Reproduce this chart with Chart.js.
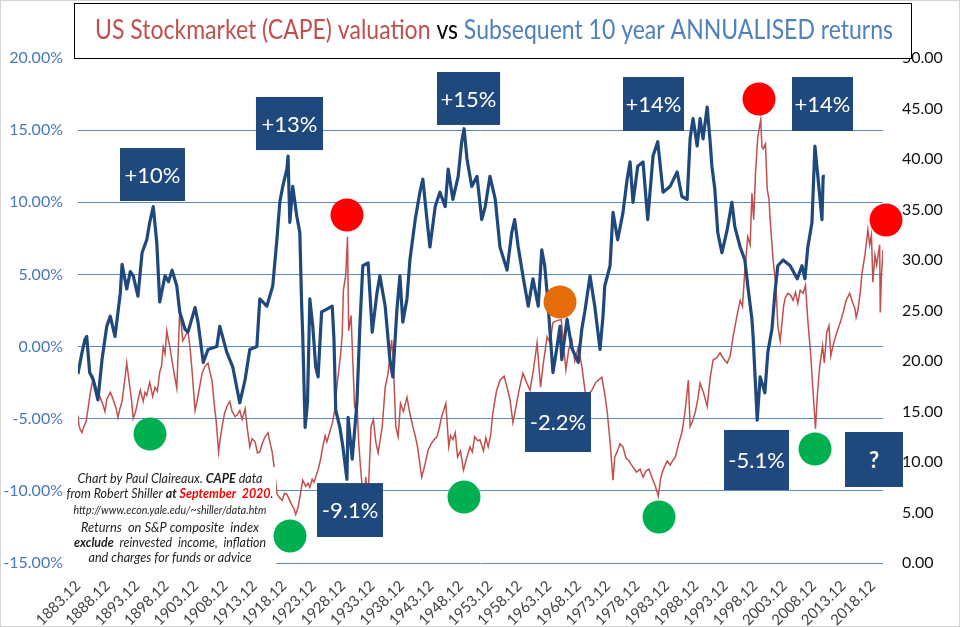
<!DOCTYPE html>
<html><head><meta charset="utf-8">
<script src="https://cdn.jsdelivr.net/npm/chart.js@4.4.1/dist/chart.umd.min.js"></script>
<style>html,body{margin:0;padding:0;background:#fff;}#wrap{width:960px;height:627px;position:relative;}canvas{display:block;}</style>
</head><body><div id="wrap"><canvas id="c" width="960" height="627"></canvas></div>
<script>
// ---- tick labels (x axis) ----
const tickLabels = ['1883.12','1888.12','1893.12','1898.12','1903.12','1908.12','1913.12','1918.12','1923.12','1928.12','1933.12','1938.12','1943.12','1948.12','1953.12','1958.12','1963.12','1968.12','1973.12','1978.12','1983.12','1988.12','1993.12','1998.12','2003.12','2008.12','2013.12','2018.12'];

// ---- CAPE (right axis) ----
const capeYears = [1883.9,1884.1,1884.3,1884.6,1884.9,1885.3,1885.7,1886.0,1886.5,1886.9,1887.3,1887.8,1888.2,1888.5,1888.8,1889.4,1889.7,1890.0,1890.4,1890.7,1891.0,1891.4,1891.8,1892.2,1892.7,1893.0,1893.3,1893.6,1893.9,1894.2,1894.5,1895.0,1895.3,1895.6,1896.1,1896.6,1897.0,1897.4,1897.8,1898.1,1898.4,1898.7,1899.0,1899.3,1899.5,1899.9,1900.3,1900.7,1901.2,1901.5,1901.7,1902.1,1902.6,1903.0,1903.3,1903.8,1904.2,1904.6,1905.0,1905.5,1906.0,1906.3,1906.7,1907.1,1907.4,1907.8,1908.1,1908.4,1908.8,1909.2,1909.7,1910.1,1910.6,1911.0,1911.4,1911.8,1912.3,1912.7,1913.1,1913.5,1914.0,1914.4,1914.8,1915.2,1915.7,1916.2,1916.5,1916.9,1917.3,1917.7,1918.1,1918.6,1919.0,1919.4,1919.8,1920.2,1920.6,1920.9,1921.3,1921.6,1922.1,1922.6,1923.0,1923.3,1923.7,1924.0,1924.4,1924.7,1925.1,1925.5,1925.9,1926.2,1926.7,1927.1,1927.5,1928.0,1928.5,1928.8,1929.0,1929.4,1929.7,1929.9,1930.3,1930.6,1930.9,1931.3,1931.6,1931.9,1932.2,1932.5,1932.8,1933.0,1933.3,1933.7,1934.1,1934.5,1934.9,1935.2,1935.6,1936.1,1936.6,1937.2,1937.5,1937.9,1938.3,1938.7,1939.2,1939.8,1940.3,1940.8,1941.2,1941.6,1942.3,1942.8,1943.4,1943.9,1944.4,1944.9,1945.3,1945.7,1946.4,1946.9,1947.2,1947.6,1948.0,1948.4,1948.9,1949.4,1949.9,1950.5,1950.9,1951.3,1951.8,1952.2,1952.8,1953.2,1953.6,1954.0,1954.4,1955.0,1955.6,1956.3,1956.8,1957.3,1957.8,1958.3,1958.8,1959.5,1960.1,1960.7,1961.3,1961.9,1962.5,1962.9,1963.6,1964.1,1964.6,1965.3,1966.0,1966.4,1966.8,1967.3,1967.8,1968.3,1968.9,1969.5,1970.4,1970.8,1971.2,1971.9,1972.9,1973.3,1973.8,1974.3,1974.8,1975.1,1975.5,1976.0,1976.5,1977.0,1977.4,1978.2,1978.8,1979.4,1979.9,1980.4,1980.9,1981.6,1982.0,1982.5,1982.9,1983.3,1984.0,1984.5,1985.0,1985.4,1986.0,1986.5,1987.0,1987.6,1987.9,1988.3,1988.8,1989.2,1989.6,1990.2,1990.8,1991.3,1991.8,1992.4,1993.0,1993.6,1994.2,1994.7,1995.2,1995.8,1996.4,1996.8,1997.2,1997.7,1998.1,1998.4,1998.7,1999.0,1999.4,1999.9,2000.1,2000.3,2000.7,2001.0,2001.3,2001.5,2002.0,2002.5,2002.8,2003.2,2003.8,2004.1,2004.5,2005.0,2005.4,2005.8,2006.2,2006.6,2007.1,2007.5,2007.9,2008.4,2008.8,2009.2,2009.5,2009.9,2010.4,2010.7,2011.1,2011.5,2011.8,2012.3,2012.8,2013.4,2013.9,2014.4,2015.0,2015.5,2015.9,2016.1,2016.4,2016.8,2017.1,2017.6,2018.1,2018.4,2018.7,2018.95,2019.3,2019.6,2019.9,2020.1,2020.2,2020.4,2020.67];
const capeValues = [14.6,13.6,13.2,12.9,13.5,14.0,15.6,16.8,18.4,17.6,17.0,16.2,15.6,15.0,16.2,16.9,16.5,16.0,15.3,14.4,15.2,16.0,17.8,19.8,17.5,16.2,14.3,14.8,15.5,16.4,17.1,16.0,16.9,16.6,17.9,16.5,17.4,17.0,18.9,19.5,21.4,20.7,23.0,22.0,21.5,20.0,18.6,17.3,25.0,23.4,22.0,22.4,23.0,21.0,19.0,15.1,16.2,17.5,18.8,19.5,19.8,19.0,18.0,15.5,14.0,11.0,12.4,13.5,14.8,15.5,16.0,15.0,14.5,14.7,15.1,14.2,15.3,13.2,11.5,12.3,12.0,10.9,11.0,11.8,12.5,12.9,12.0,11.0,9.2,6.9,6.5,6.2,6.9,6.8,6.3,5.8,5.4,4.8,5.5,6.5,8.2,7.6,7.9,7.5,8.3,8.0,8.7,9.2,10.2,11.5,12.6,12.0,13.0,13.8,15.0,18.0,20.5,22.6,27.0,28.5,32.3,23.0,24.5,20.0,15.5,16.0,12.0,9.5,7.5,6.0,8.5,7.2,8.0,13.5,14.2,12.0,10.9,12.0,13.5,17.4,18.8,22.1,19.5,13.5,12.5,15.8,15.0,16.4,14.8,13.5,12.6,11.5,8.5,9.6,11.2,11.8,12.2,12.5,13.4,14.5,15.8,11.5,12.6,12.2,12.9,10.5,11.1,9.2,10.3,11.5,11.0,12.5,12.1,12.2,11.1,12.4,11.5,12.6,14.9,17.0,18.1,18.5,17.4,16.2,13.9,15.4,17.0,18.8,17.9,17.1,19.2,21.8,17.4,19.5,22.4,21.8,23.8,24.0,24.1,21.6,19.1,21.2,22.1,20.0,21.4,19.5,15.5,16.8,17.1,17.9,18.4,17.1,15.1,12.0,8.2,10.5,11.0,11.8,11.5,10.4,10.2,9.5,9.0,9.3,8.5,9.1,9.3,8.2,7.6,6.6,8.4,9.2,10.1,9.7,10.2,10.5,11.9,12.9,14.8,18.1,13.5,14.0,15.0,16.2,17.8,16.8,15.5,18.3,20.1,20.3,20.8,20.2,19.8,20.5,22.4,24.3,26.0,25.4,29.0,32.3,31.5,36.6,34.0,38.5,42.2,43.9,41.2,41.0,41.5,37.0,36.0,34.0,30.0,27.3,23.5,22.0,25.5,26.3,26.7,26.5,26.0,26.8,25.7,27.0,26.7,27.5,24.0,20.5,16.8,13.3,16.5,19.4,21.5,19.8,22.8,23.5,20.5,21.8,22.8,23.8,24.8,26.0,26.7,25.8,25.2,24.3,25.0,26.8,28.7,30.5,33.0,31.5,32.5,27.8,30.5,29.5,30.8,31.5,24.8,28.5,31.0];

// ---- Subsequent 10 year annualised return, % (left axis) ----
const retYears = [1883.9,1884.6,1885.1,1885.4,1885.9,1886.5,1887.3,1888.0,1888.8,1889.4,1890.2,1891.1,1891.4,1892.2,1892.8,1893.3,1894.1,1894.8,1895.6,1896.1,1896.7,1897.3,1897.8,1898.7,1899.3,1899.9,1900.7,1901.2,1902.1,1902.6,1903.8,1904.3,1905.2,1906.0,1907.5,1908.0,1909.2,1910.2,1911.4,1912.3,1913.1,1914.3,1914.8,1916.0,1917.0,1917.7,1918.2,1918.7,1919.4,1919.6,1919.9,1920.4,1921.1,1921.6,1921.9,1922.1,1922.5,1922.9,1923.3,1923.8,1924.3,1924.7,1925.3,1926.2,1927.1,1927.4,1927.7,1928.4,1928.9,1929.6,1929.8,1930.5,1931.3,1931.8,1932.3,1933.2,1933.9,1934.7,1935.2,1936.1,1936.9,1937.4,1938.1,1938.6,1939.1,1939.8,1940.3,1941.2,1942.0,1942.5,1943.2,1943.7,1944.6,1945.4,1946.3,1946.8,1947.6,1948.5,1949.1,1949.5,1950.0,1950.8,1951.7,1952.5,1953.1,1953.9,1954.8,1955.6,1956.8,1957.6,1958.1,1958.7,1959.5,1960.4,1961.2,1962.1,1962.7,1963.2,1963.7,1964.6,1965.3,1965.8,1966.1,1967.0,1967.8,1968.9,1969.5,1970.0,1970.9,1971.7,1972.6,1973.1,1973.4,1974.3,1974.8,1975.6,1976.5,1977.2,1977.7,1978.2,1979.0,1979.9,1980.7,1981.6,1982.4,1983.3,1984.5,1985.7,1986.5,1987.4,1987.9,1988.4,1989.1,1989.6,1990.1,1990.8,1991.3,1991.6,1992.1,1992.6,1993.3,1994.2,1995.0,1995.5,1996.4,1997.2,1997.7,1998.4,1998.6,1999.3,1999.8,2000.6,2001.1,2001.8,2002.3,2002.8,2003.7,2004.9,2006.1,2006.9,2007.4,2007.9,2008.6,2009.1,2009.6,2010.3,2010.5,2010.8];
const retValues = [-1.9,-0.4,0.5,0.7,-1.8,-2.3,-3.7,-0.9,1.4,2.1,0.7,3.7,5.7,4.0,5.2,4.9,3.5,6.5,7.4,8.6,9.7,7.2,3.1,4.9,4.5,5.3,4.2,2.4,1.2,1.0,2.7,1.7,-1.1,-0.2,0.0,1.4,-0.4,-1.4,-3.9,-2.3,-0.2,0.0,3.3,2.8,4.2,7.4,10.0,11.1,12.3,13.2,8.6,11.1,9.0,7.9,3.0,0.7,-5.6,-3.9,3.3,1.4,-1.4,-2.1,2.4,2.6,2.8,0.5,-4.4,-5.6,-6.9,-9.2,-4.9,-7.8,-3.9,1.4,5.6,5.8,1.0,3.7,4.9,2.8,-0.9,-2.1,2.6,4.9,1.7,3.3,6.0,8.8,10.7,11.6,8.8,6.9,9.7,10.7,9.7,12.3,10.2,11.8,14.2,15.1,13.0,11.1,11.8,8.8,9.7,11.8,10.2,6.9,5.3,7.9,8.8,6.9,4.9,2.8,4.7,2.8,6.7,5.6,3.3,-1.8,0.0,1.4,-0.9,1.9,-0.1,-1.1,1.2,2.4,4.9,2.8,-0.2,2.1,4.2,5.6,9.3,7.4,9.3,11.6,12.8,10.0,12.5,12.8,8.8,13.2,14.2,10.7,11.1,12.1,10.4,10.2,14.4,15.8,13.9,15.8,14.4,16.6,14.2,12.5,10.9,7.9,6.5,8.1,10.0,8.3,6.9,6.0,4.2,1.9,0.7,-5.1,-2.1,-3.2,-0.4,1.2,3.7,5.6,6.0,5.6,4.7,5.6,4.7,6.9,8.6,13.9,11.8,8.8,11.8,11.8];

// ---- annotations (placed in data units through the scales) ----
const labelBoxes = [
  {text:'+10%', x1:1891.05, x2:1902.09, y1:13.76, y2:10.09},
  {text:'+13%', x1:1914.15, x2:1925.54, y1:17.30, y2:13.62},
  {text:'+15%', x1:1944.90, x2:1955.62, y1:19.03, y2:15.36},
  {text:'+14%', x1:1976.50, x2:1986.86, y1:18.68, y2:14.94},
  {text:'+14%', x1:2005.21, x2:2015.57, y1:18.68, y2:14.94},
  {text:'-9.1%', x1:1924.52, x2:1935.73, y1:-9.46, y2:-13.20},
  {text:'-2.2%', x1:1959.85, x2:1971.06, y1:-3.15, y2:-7.31},
  {text:'-5.1%', x1:1993.66, x2:2004.70, y1:-5.78, y2:-9.94},
  {text:'?',     x1:2014.21, x2:2024.06, y1:-5.92, y2:-9.73, bold:true}
];
const dots = [
  {x:1896.15, y:-6.06, c:'#00B050'},
  {x:1919.93, y:-13.13, c:'#00B050'},
  {x:1929.61, y:9.12, c:'#FF0000'},
  {x:1949.49, y:-10.43, c:'#00B050'},
  {x:1965.80, y:3.09, c:'#E46C0A'},
  {x:1982.62, y:-11.81, c:'#00B050'},
  {x:1999.60, y:17.16, c:'#FF0000'},
  {x:2009.12, y:-7.10, c:'#00B050'},
  {x:2021.18, y:8.77, c:'#FF0000'}
];

const FONT = 'Lato, "Open Sans", sans-serif';
const tickValues = tickLabels.map(l => parseInt(l.split('.')[0], 10) + 11/12);

function richLine(ctx, segs, cx, cy, target) {
  let total = 0;
  segs.forEach(s => { ctx.font = s.f; s.w = ctx.measureText(s.t).width; total += s.w; });
  const sx = target ? target / total : 1;
  ctx.save();
  ctx.translate(cx - total * sx / 2, cy);
  ctx.scale(sx, 1);
  ctx.textBaseline = 'middle'; ctx.textAlign = 'left';
  let x = 0;
  segs.forEach(s => { ctx.font = s.f; ctx.fillStyle = s.c; ctx.fillText(s.t, x, 0); x += s.w; });
  ctx.restore();
}

const decor = {
  id: 'decor',
  afterDraw(chart) {
    const ctx = chart.ctx, xs = chart.scales.x, ys = chart.scales.yL;
    const px = v => xs.getPixelForValue(v), py = v => ys.getPixelForValue(v);
    ctx.save();
    // text block with white background
    const bx1 = px(1881.37), bx2 = px(1917.55), by1 = py(-8.35), by2 = py(-15.25);
    ctx.fillStyle = '#fff';
    ctx.fillRect(bx1, by1, bx2 - bx1, by2 - by1);
    const cx = (bx1 + bx2) / 2 + 0.5;
    const itI = 'italic 14px ' + FONT, bI = 'italic bold 14px ' + FONT;
    const tc = '#1e1e1e';
    richLine(ctx, [{t:'Chart by Paul Claireaux. ', f:itI, c:tc}, {t:'CAPE', f:bI, c:tc}, {t:' data', f:itI, c:tc}], cx, by1 + 11, 185);
    richLine(ctx, [{t:'from Robert Shiller ', f:itI, c:tc}, {t:'at ', f:bI, c:tc}, {t:'September  2020', f:bI, c:'#FF0000'}, {t:'.', f:itI, c:tc}], cx, by1 + 26, 207);
    richLine(ctx, [{t:'http://www.econ.yale.edu/~shiller/data.htm', f:'italic 11.5px ' + FONT, c:tc}], cx, by1 + 43, 193);
    richLine(ctx, [{t:'Returns  on S&P composite  index', f:itI, c:tc}], cx, by1 + 60, 178);
    richLine(ctx, [{t:'exclude', f:bI, c:tc}, {t:'  reinvested  income,  inflation', f:itI, c:tc}], cx, by1 + 75, 192);
    richLine(ctx, [{t:'and charges for funds or advice', f:itI, c:tc}], cx, by1 + 90, 163);

    // labelled boxes
    labelBoxes.forEach(b => {
      const x1 = px(b.x1), x2 = px(b.x2), y1 = py(b.y1), y2 = py(b.y2);
      ctx.fillStyle = '#1F497D';
      ctx.fillRect(x1, y1, x2 - x1, y2 - y1);
      ctx.fillStyle = '#ffffff';
      ctx.font = (b.bold ? 'bold ' : '') + '22px ' + FONT;
      ctx.textAlign = 'center'; ctx.textBaseline = 'middle';
      ctx.fillText(b.text, (x1 + x2) / 2, (y1 + y2) / 2 + 1);
    });
    // dots
    dots.forEach(d => {
      ctx.beginPath();
      ctx.arc(px(d.x), py(d.y), 16.5, 0, Math.PI * 2);
      ctx.fillStyle = d.c; ctx.fill();
    });
    // title box
    ctx.fillStyle = '#fff';
    ctx.fillRect(74, 3, 837, 55);
    ctx.strokeStyle = '#000'; ctx.lineWidth = 1;
    ctx.strokeRect(74.5, 3.5, 837, 55);
    const tf = '26px ' + FONT;
    richLine(ctx, [{t:'US Stockmarket (CAPE) valuation ', f:tf, c:'#C0504D'}, {t:'vs ', f:tf, c:'#000'}, {t:'Subsequent 10 year ANNUALISED returns', f:tf, c:'#4F81BD'}], 494, 31, 798);
    // outer frame
    ctx.strokeStyle = '#d4d4d4';
    ctx.strokeRect(0.5, 0.5, 959, 626);
    ctx.restore();
  }
};

new Chart(document.getElementById('c'), {
  type: 'line',
  data: {
    datasets: [
      { label: 'Subsequent 10 year annualised return', data: retYears.map((x, i) => ({x, y: retValues[i]})), yAxisID: 'yL',
        borderColor: '#1F497D', borderWidth: 3.2, pointRadius: 0, tension: 0, borderJoinStyle: 'round' },
      { label: 'CAPE', data: capeYears.map((x, i) => ({x, y: capeValues[i]})), yAxisID: 'yR',
        borderColor: '#C0504D', borderWidth: 1.5, pointRadius: 0, tension: 0 }
    ]
  },
  options: {
    responsive: false, animation: false, events: [],
    layout: { padding: { top: 58, left: 0, right: 0, bottom: 0 } },
    plugins: { legend: { display: false }, tooltip: { enabled: false }, title: { display: false } },
    scales: {
      x: {
        type: 'linear', min: 1883.917, max: 2020.667,
        afterBuildTicks: axis => { axis.ticks = tickValues.map(v => ({value: v})); },
        afterFit: s => { s.height = 64; },
        ticks: { autoSkip: false, maxRotation: 45, minRotation: 45, padding: 14, color: '#3f3f3f',
          font: { family: FONT, size: 15 }, callback: (v, i) => tickLabels[i] },
        grid: { display: false, drawTicks: false }, border: { display: false }
      },
      yL: {
        position: 'left', min: -15, max: 20,
        afterFit: s => { s.width = 78; },
        ticks: { stepSize: 5, padding: 15, color: '#4878C0', font: { family: FONT, size: 16 },
          callback: v => v.toFixed(2) + '%' },
        grid: { color: '#5B89C8', lineWidth: 1, drawTicks: false }, border: { display: false }
      },
      yR: {
        position: 'right', min: 0, max: 50,
        afterFit: s => { s.width = 77; },
        ticks: { stepSize: 5, padding: 19, color: '#111', font: { family: FONT, size: 16 },
          callback: v => v.toFixed(2) },
        grid: { display: false, drawTicks: false }, border: { display: false }
      }
    }
  },
  plugins: [decor]
});
</script></body></html>
